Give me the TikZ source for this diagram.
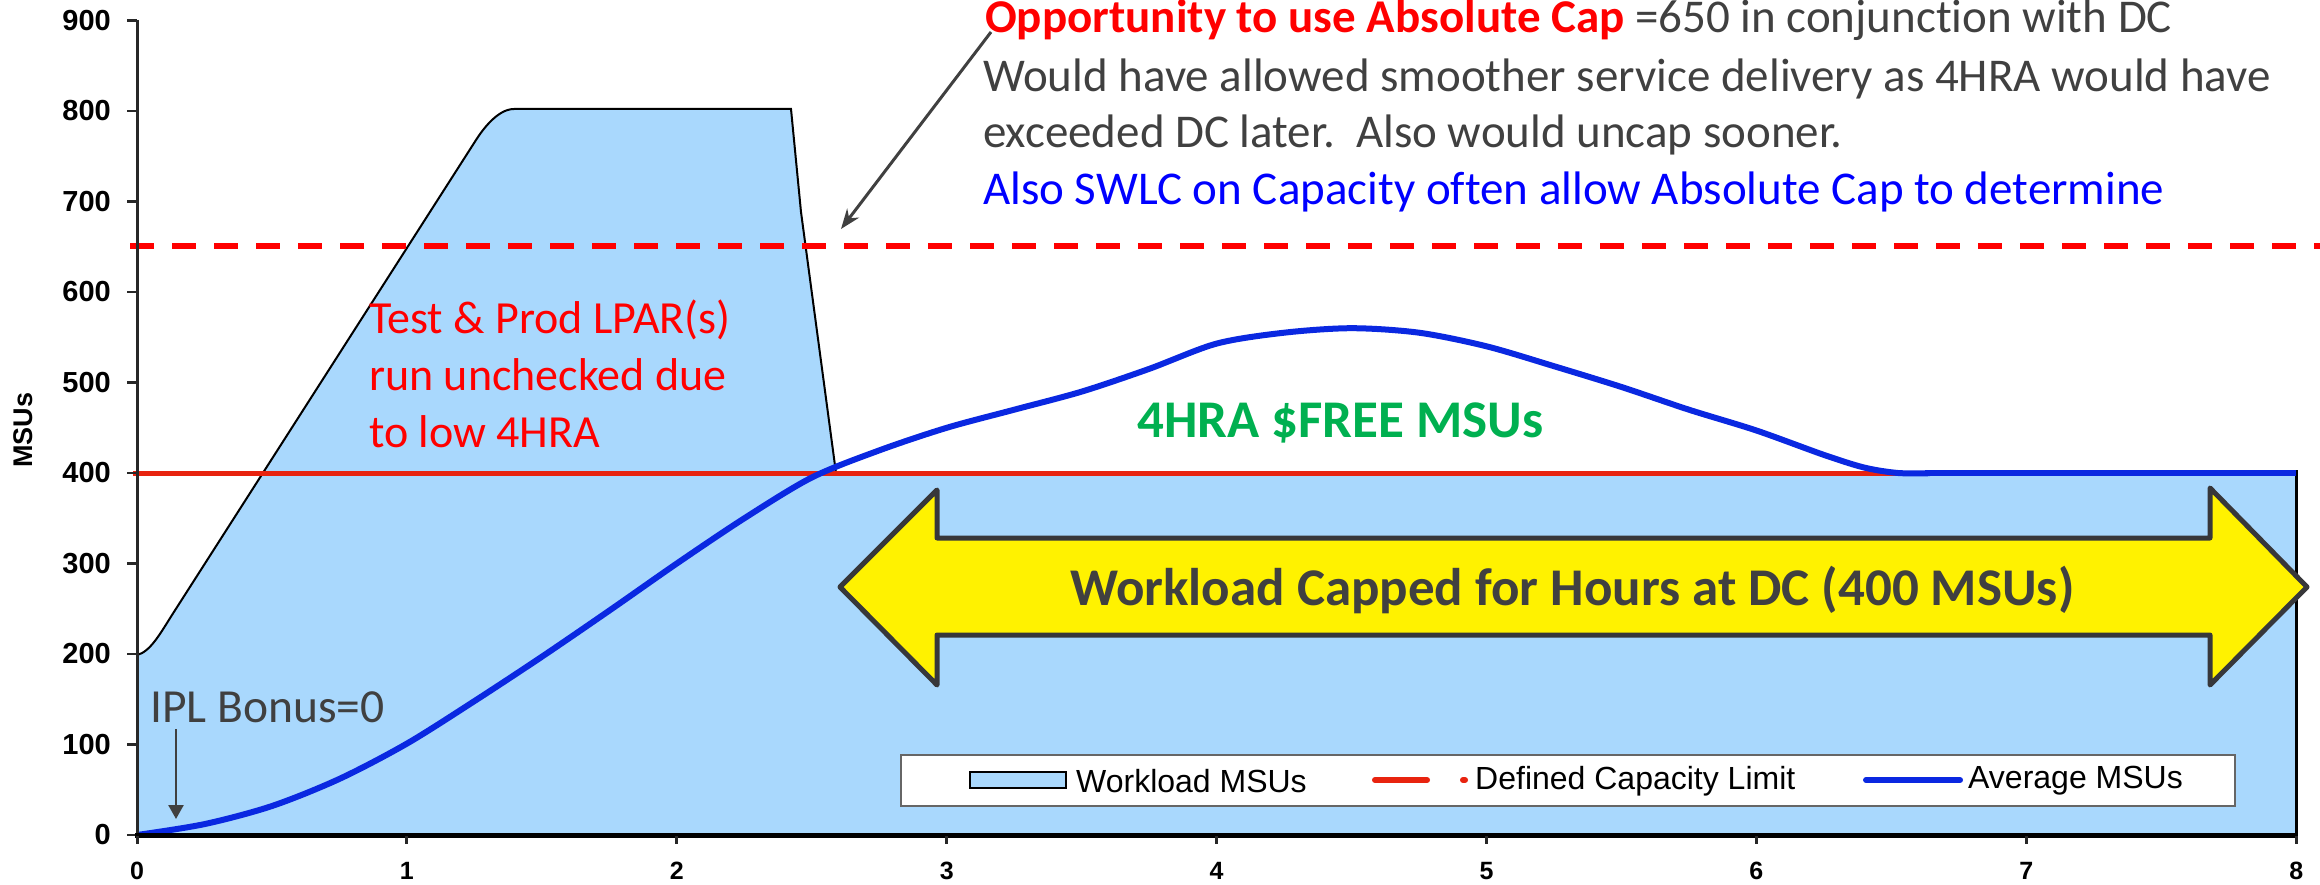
\documentclass[tikz,border=0pt]{standalone}
\usepackage{fontspec}
\setmainfont{Carlito}[Ligatures=NoCommon]
\newfontfamily\arialfont{Liberation Sans}
\usetikzlibrary{arrows.meta}

\definecolor{areablue}{RGB}{169,216,253}
\definecolor{txtgray}{RGB}{64,64,64}
\definecolor{avgblue}{RGB}{10,40,225}
\definecolor{dcred}{RGB}{232,35,15}
\definecolor{capgreen}{RGB}{0,176,80}
\definecolor{arrowedge}{RGB}{55,55,58}
\definecolor{axisgray}{RGB}{40,40,40}

\tikzset{
  txt/.style={inner sep=0pt, anchor=base west},
  note/.style={txt, font=\fontsize{47}{56}\selectfont},
  ylab/.style={inner sep=0pt, anchor=east, font=\arialfont\bfseries\fontsize{29}{32}\selectfont},
  xlab/.style={inner sep=0pt, anchor=center, font=\arialfont\bfseries\fontsize{25}{28}\selectfont},
  legtxt/.style={inner sep=0pt, anchor=west, font=\arialfont\fontsize{32}{36}\selectfont},
  leader/.style={draw=txtgray, line width=3pt, -{Stealth[length=20pt,width=15pt]}},
}

\begin{document}
\begin{tikzpicture}[x=1pt,y=-1pt]
\useasboundingbox (0,0) rectangle (2320,885);

% workload area
\fill[areablue] (137,835) -- (137,655) .. controls (150,652) and (160,634) .. (172,615)
  -- (476,140) .. controls (483,129) and (498,109) .. (514,109)
  -- (791,109) -- (801,212) -- (836,473) -- (2296,473) -- (2296,835) -- cycle;
\draw[black, line width=2pt] (137,655) .. controls (150,652) and (160,634) .. (172,615)
  -- (476,140) .. controls (483,129) and (498,109) .. (514,109)
  -- (791,109) -- (801,212) -- (836,473);
\draw[black, line width=3pt] (2296,470) -- (2296,835);

% absolute cap (dashed) and defined capacity
\draw[red, line width=6pt, dash pattern=on 24pt off 18pt] (130,246) -- (2320,246);
\draw[dcred, line width=5pt] (133,473) -- (2296,473);

% rolling 4-hour average
\draw[avgblue, line width=6pt, line join=round] plot[smooth, tension=0.5] coordinates {
  (137,835) (204.5,824.1) (272,806) (339.4,778.9) (406.9,743.6) (474.4,701.1)
  (541.9,656.7) (609.3,610.6) (676.8,563.5) (744.3,518.3) (811.8,477.5)
  (879.2,450.4) (946.7,427.8) (1014.2,409.7) (1081.7,391.6) (1149.1,368.9)
  (1216.6,343.6) (1284.1,332.7) (1351.6,328.2) (1419,332.7) (1486.5,346.3)
  (1554,366.2) (1621.5,387.0) (1688.9,409.7) (1756.4,430.5) (1823.9,454.9)
  (1864.4,467.6) (1898,473) (1930,473.2)};
\draw[avgblue, line width=6pt] (1925,473.2) -- (2296,473.2);

% axes
\draw[axisgray, line width=3pt] (137,20) -- (137,836);
\foreach \v in {0,100,...,900} {
  \pgfmathsetmacro{\yy}{835-0.905*\v}
  \draw[axisgray, line width=2.5pt] (127,\yy) -- (137,\yy);
  \node[ylab] (yl\v) at (111,\yy) {\v};
}
\draw[black, line width=5pt] (135,835.5) -- (2298,835.5);
\foreach \t in {0,...,8} {
  \pgfmathsetmacro{\xx}{137+269.9*\t}
  \draw[axisgray, line width=3pt] (\xx,836) -- (\xx,844);
  \node[xlab] (xl\t) at (\xx,871) {\t};
}
\node[inner sep=0pt, rotate=90, font=\arialfont\bfseries\fontsize{27}{30}\selectfont] (ytitle) at (23.5,430) {MSUs};

% capped period arrow
\draw[arrowedge, fill=yellow, line width=5pt, line join=round]
  (840,587) -- (937,490) -- (937,538) -- (2210,538) -- (2210,488) -- (2307,587)
  -- (2210,685) -- (2210,635) -- (937,635) -- (937,685) -- cycle;
\node[txt, text=txtgray, font=\bfseries\fontsize{53}{62}\selectfont] (capped) at (1070,605)
  {Workload Capped for Hours at DC (400 MSUs)};

% annotations
\node[txt, text=capgreen, font=\bfseries\fontsize{53}{62}\selectfont] (free) at (1137,437) {4HRA \$FREE MSUs};

\node[txt, text=red, font=\fontsize{46}{55}\selectfont] (lpar1) at (369,333) {Test \& Prod LPAR(s)};
\node[txt, text=red, font=\fontsize{46}{55}\selectfont] (lpar2) at (369,390) {run unchecked due};
\node[txt, text=red, font=\fontsize{46}{55}\selectfont] (lpar3) at (369,447) {to low 4HRA};

\node[txt, text=txtgray, font=\fontsize{47.5}{56}\selectfont] (ipl) at (150,722) {IPL Bonus=0};
\coordinate (iplfrom) at (176,729);
\coordinate (iplto) at (176,819);
\draw[txtgray, line width=2.5pt, -{Triangle[length=14pt,width=15pt]}] (iplfrom) -- (iplto);

\node[note] (opp1) at (985,33)
  {\textcolor{red}{\bfseries Opportunity to use Absolute Cap} \textcolor{txtgray}{=650 in conjunction with DC}};
\node[note, text=txtgray] (opp2) at (983,92)
  {Would have allowed smoother service delivery as 4HRA would have};
\node[note, text=txtgray] (opp3) at (983,148)
  {exceeded DC later.\ \ Also would uncap sooner.};
\node[note, text=blue] (opp4) at (983,205)
  {Also SWLC on Capacity often allow Absolute Cap to determine};
\coordinate (oppfrom) at (991,32);
\coordinate (opptip) at (841,229);
\draw[leader] (oppfrom) -- (opptip);

% legend
\draw[fill=white, draw=gray!80!black, line width=2pt] (901,755) rectangle (2235,806);
\draw[fill=areablue, draw=black, line width=2.5pt] (970,772) rectangle (1066,788);
\node[legtxt] (lg1) at (1076,781) {Workload MSUs};
\draw[dcred, line width=6pt, line cap=round] (1375,780) -- (1427,780);
\draw[dcred, line width=6pt, line cap=round] (1463,780) -- (1465,780);
\node[legtxt] (lg2) at (1475,781) {Defined Capacity Limit};
\draw[avgblue, line width=6pt, line cap=round] (1866,780) -- (1960,780);
\node[legtxt] (lg3) at (1968,781) {Average MSUs};
\end{tikzpicture}
\end{document}
